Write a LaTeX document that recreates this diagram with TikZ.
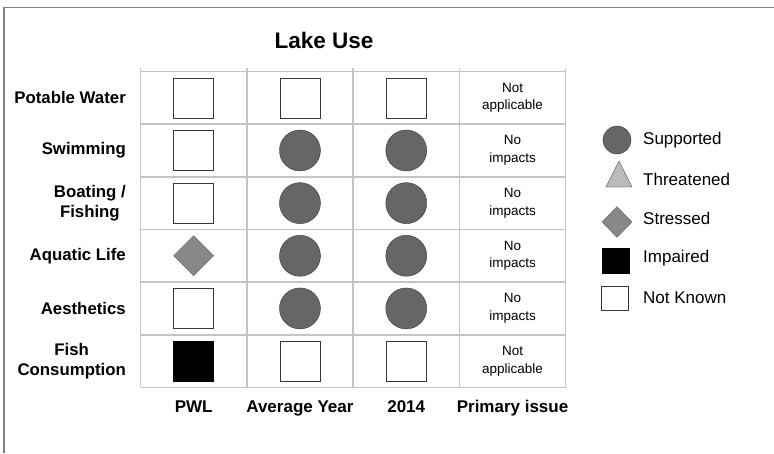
\documentclass[tikz,border=0pt]{standalone}
\usepackage{fontspec}
\setmainfont{Liberation Sans}
\usepackage{tikz}
\usetikzlibrary{shapes.geometric}
\definecolor{framegray}{RGB}{128,128,128}
\definecolor{gridgray}{RGB}{196,196,196}
\definecolor{symline}{RGB}{55,55,55}
\definecolor{supfill}{RGB}{102,102,102}
\definecolor{strfill}{RGB}{136,136,136}
\definecolor{thrfill}{RGB}{187,187,187}
\tikzset{
  sup/.style={circle, draw=symline, fill=supfill, minimum size=41pt, inner sep=0pt},
  str/.style={diamond, draw=strfill!70!black, fill=strfill, minimum width=40pt, minimum height=40pt, inner sep=0pt},
  thr/.style={isosceles triangle, isosceles triangle stretches, shape border rotate=90, draw=symline, fill=thrfill, minimum width=26pt, minimum height=26pt, inner sep=0pt},
  imp/.style={rectangle, draw=black, fill=black, minimum size=40pt, inner sep=0pt},
  unk/.style={rectangle, draw=symline, fill=white, minimum size=40pt, inner sep=0pt},
  gridline/.style={draw=gridgray, line width=1.5pt},
  rowlabel/.style={font=\fontsize{16.8}{20}\selectfont\bfseries, align=center, anchor=east, inner sep=0pt},
  colhead/.style={font=\fontsize{17}{20}\selectfont\bfseries, anchor=base, inner sep=0pt},
  issue/.style={font=\fontsize{13.5}{17.5}\selectfont, align=center, inner sep=0pt},
  legtext/.style={font=\fontsize{17}{20}\selectfont, anchor=west, inner sep=0pt}
}

\begin{document}
\begin{tikzpicture}[x=1pt,y=-1pt]
  \useasboundingbox (0,0) rectangle (774,453);
  \draw[framegray, line width=1.5pt] (4,453) -- (4,7.3) -- (774,7.3);
  % table grid
  \foreach \x in {0,...,4} {
    \draw[gridline] (140.5+106.3*\x, 68) -- (140.5+106.3*\x, 387.4);
  }
  \foreach \y in {0,...,6} {
    \draw[gridline] (140.5, 71.5+52.65*\y) -- (565.7, 71.5+52.65*\y);
  }
  \node[font=\fontsize{22.5}{26}\selectfont\bfseries] (title) at (324,40) {Lake Use};
  \foreach \r/\name/\pwl/\avg/\cur/\issue in {
    1/{Potable Water}/unk/unk/unk/{Not\\applicable},
    2/{Swimming}/unk/sup/sup/{No\\impacts},
    3/{Boating /\\Fishing}/unk/sup/sup/{No\\impacts},
    4/{Aquatic Life}/str/sup/sup/{No\\impacts},
    5/{Aesthetics}/unk/sup/sup/{No\\impacts},
    6/{Fish\\Consumption}/imp/unk/unk/{Not\\applicable}%
  } {
    \pgfmathsetmacro\yy{71.5+52.65*(\r-0.5)}
    \node[rowlabel] (row\r) at (126,\yy) {\name};
    \node[\pwl] (pwl\r) at (193.65,\yy) {};
    \node[\avg] (avg\r) at (299.95,\yy) {};
    \node[\cur] (cur\r) at (406.25,\yy) {};
    \node[issue] (issue\r) at (512.55,\yy) {\issue};
  }
  \foreach \c/\head in {1/PWL, 2/Average Year, 3/2014, 4/Primary issue} {
    \node[colhead] (head\c) at (140.5+106.3*\c-53.15, 412) {\head};
  }
  % legend
  \node[sup, minimum size=28pt] (legsup) at (617,140) {};
  \node[thr] (legthr) at (619,179) {};
  \node[str, minimum width=30pt, minimum height=31pt] (legstr) at (617,222) {};
  \node[imp, minimum width=27pt, minimum height=25pt] (legimp) at (615.5,261) {};
  \node[unk, minimum width=27pt, minimum height=24pt] (legunk) at (614.5,298) {};
  \foreach \s/\txt/\y in {sup/Supported/140, thr/Threatened/179, str/Stressed/218, imp/Impaired/258, unk/Not Known/298} {
    \node[legtext] (leg\s txt) at (643,\y) {\txt};
  }
\end{tikzpicture}
\end{document}
